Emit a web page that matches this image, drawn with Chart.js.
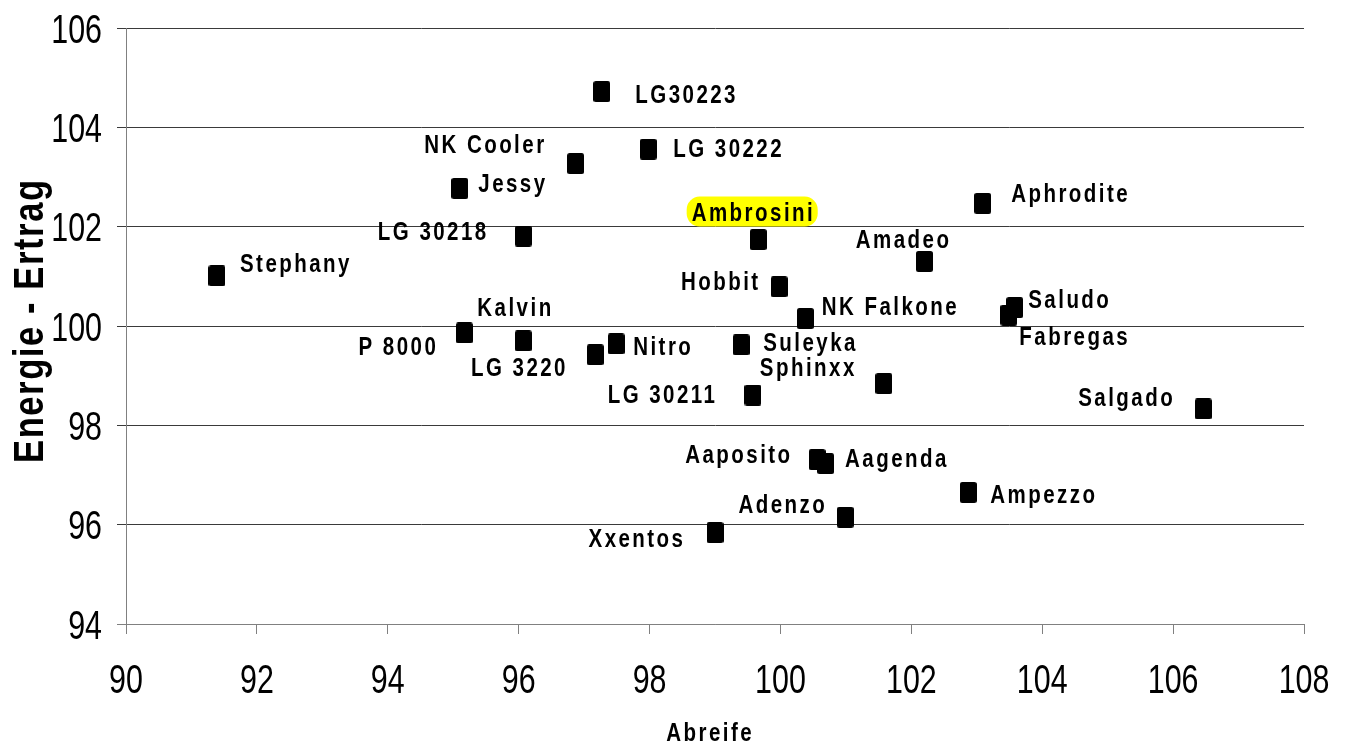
<!DOCTYPE html>
<html><head><meta charset="utf-8">
<script src="https://cdn.jsdelivr.net/npm/chart.js@4.4.0/dist/chart.umd.min.js"></script>
<style>html,body{margin:0;padding:0;background:#fff;overflow:hidden}#wrap{width:1348px;height:747px;position:relative}</style>
</head><body><div id="wrap"><canvas id="c" width="1348" height="747"></canvas></div>
<script>
// ---- data ----
const varieties = ['Stephany','P 8000','Kalvin','LG 3220','Nitro','LG 30218','Jessy','NK Cooler','LG30223','LG 30222',
  'Ambrosini','Hobbit','NK Falkone','Suleyka','Sphinxx','LG 30211','Amadeo','Aphrodite','Saludo','Fabregas',
  'Salgado','Aaposito','Aagenda','Adenzo','Xxentos','Ampezzo'];
const abreife = [91.39,95.17,96.07,97.17,97.49,96.07,95.10,96.87,97.27,97.98,
  99.66,99.98,100.38,99.40,101.58,99.58,102.20,103.09,103.58,103.49,
  106.46,100.56,100.69,100.99,99.00,102.87];
const ertrag = [101.01,99.86,99.70,99.42,99.64,101.81,102.77,103.27,104.72,103.56,
  101.74,100.79,100.15,99.62,98.84,98.61,101.30,102.47,100.37,100.22,
  98.33,97.31,97.23,96.15,95.84,96.65];
const highlighted = ['Ambrosini'];
const xAxisTitle = 'Abreife';
const yAxisTitle = 'Energie - Ertrag';
const xRange = [90, 108, 2];
const yRange = [94, 106, 2];

// ---- label placement (offsets from point, px) ----
const labelPlacement = [
  {dx:23,dy:-4,a:'left'},{dx:-28.5,dy:22,a:'right'},{dx:-9,dy:-25,a:'center'},{dx:-77,dy:21,a:'center'},{dx:17,dy:11,a:'left'},
  {dx:-37,dy:3.5,a:'right'},{dx:18.5,dy:4,a:'left'},{dx:-31.5,dy:-11,a:'right'},{dx:33.5,dy:11,a:'left'},{dx:25,dy:7.5,a:'left'},
  {dx:-6,dy:-19,a:'center'},{dx:-21,dy:3,a:'right'},{dx:16.5,dy:-4,a:'left'},{dx:22,dy:6,a:'left'},{dx:-124,dy:-8,a:'left'},
  {dx:-38,dy:8,a:'right'},{dx:24.5,dy:-13.5,a:'right'},{dx:28.5,dy:-1.5,a:'left'},{dx:13.5,dy:0,a:'left'},{dx:10.5,dy:29.5,a:'left'},
  {dx:-30.5,dy:-3,a:'right'},{dx:-27,dy:3.5,a:'right'},{dx:19.5,dy:3.5,a:'left'},{dx:-20.5,dy:-4.5,a:'right'},{dx:-32,dy:14.5,a:'right'},
  {dx:22,dy:10.5,a:'left'}
];

function hasFont(name){
  const c=document.createElement('canvas').getContext('2d');
  const s='Aphrodite mmmWWWiii 0123';
  c.font='40px monospace'; const a=c.measureText(s).width;
  c.font='40px "'+name+'", monospace'; const b=c.measureText(s).width;
  return Math.abs(a-b)>0.5;
}
const NARROW_OK = hasFont('Liberation Sans Narrow');
const FAM = NARROW_OK ? '"Liberation Sans Narrow", "Liberation Sans", Arial, sans-serif' : '"Liberation Sans", Arial, sans-serif';
const SX = NARROW_OK ? 1 : 0.82;
const TICK_SX = NARROW_OK ? 0.93 : 0.76;

// square marker
const marker = document.createElement('canvas');
marker.width = 17; marker.height = 21;
(function(){const m=marker.getContext('2d');m.fillStyle='#000';m.beginPath();m.roundRect(0,0,17,21,2.5);m.fill();})();

function drawSpaced(ctx, text, ax, y, align, sp, fill, sx){
  sx = sx||SX;
  ctx.save();
  ctx.letterSpacing = sp+'px';
  ctx.textAlign='left';
  const w = ctx.measureText(text).width*sx - sp*sx;
  let left = align==='left'?ax:(align==='right'?ax-w:ax-w/2);
  if(fill){ fill(left,w); }
  ctx.translate(left,y); ctx.scale(sx,1);
  ctx.fillText(text,0,0);
  ctx.restore();
}

const labelPlugin = {
  id:'pointLabels',
  afterDatasetsDraw(chart){
    const ctx=chart.ctx, meta=chart.getDatasetMeta(0);
    ctx.save();
    ctx.font='bold 25px '+FAM;
    ctx.textBaseline='alphabetic';
    meta.data.forEach((pt,i)=>{
      const p=labelPlacement[i]; const name=varieties[i];
      const hl = highlighted.includes(name);
      ctx.fillStyle='#000';
      drawSpaced(ctx,name,pt.x+p.dx,pt.y+p.dy,p.a,3,hl?(l,w)=>{
        ctx.save();ctx.fillStyle='#ffff00';ctx.beginPath();
        ctx.roundRect(l-5,pt.y+p.dy-24,w+10,30,13);ctx.fill();ctx.restore();
      }:null);
    });
    ctx.restore();
  },
  afterDraw(chart){
    const ctx=chart.ctx, ca=chart.chartArea;
    ctx.save(); ctx.fillStyle='#000'; ctx.textBaseline='alphabetic';
    // tick labels (values from the library's scales)
    ctx.font='40px '+FAM;
    const xs=chart.scales.x, ys=chart.scales.y;
    xs.ticks.forEach(t=>{ drawSpaced(ctx,String(t.value),xs.getPixelForValue(t.value),693,'center',0,null,TICK_SX); });
    ys.ticks.forEach(t=>{ drawSpaced(ctx,String(t.value),102,ys.getPixelForValue(t.value)+14.5,'right',0,null,TICK_SX); });
    // axis titles
    ctx.font='bold 25px '+FAM;
    drawSpaced(ctx,xAxisTitle,(ca.left+ca.right)/2-6,741,'center',3,null);
    ctx.font='bold 42px '+FAM;
    ctx.save(); ctx.translate(43,321.5); ctx.rotate(-Math.PI/2);
    drawSpaced(ctx,yAxisTitle,0,0,'center',2,null);
    ctx.restore();
    ctx.restore();
  }
};

const points = abreife.map((x,i)=>({x:x,y:ertrag[i]}));

new Chart(document.getElementById('c'),{
  type:'scatter',
  data:{datasets:[{label:'Sorten',data:points,pointStyle:marker,pointRadius:9,pointHoverRadius:9,backgroundColor:'#000',borderColor:'#000'}]},
  options:{
    responsive:false,animation:false,devicePixelRatio:1,
    layout:{padding:{top:28,right:44,left:0,bottom:0}},
    plugins:{legend:{display:false},tooltip:{enabled:false},title:{display:false}},
    scales:{
      x:{type:'linear',min:xRange[0],max:xRange[1],
        afterFit(s){s.height=123;},
        ticks:{display:false,stepSize:xRange[2],autoSkip:false},
        grid:{drawOnChartArea:false,drawTicks:true,tickLength:10,color:'#808080',lineWidth:1},
        border:{display:true,color:'#808080',width:1},
        title:{display:false}},
      y:{type:'linear',min:yRange[0],max:yRange[1],
        afterFit(s){s.width=126;},
        ticks:{display:false,stepSize:yRange[2]},
        grid:{drawTicks:true,tickLength:9,lineWidth:1,color:(c)=>c.tick&&c.tick.value===yRange[0]?'#808080':'#3a3a3a'},
        border:{display:true,color:'#808080',width:1},
        title:{display:false}}
    }
  },
  plugins:[labelPlugin]
});
</script></body></html>
